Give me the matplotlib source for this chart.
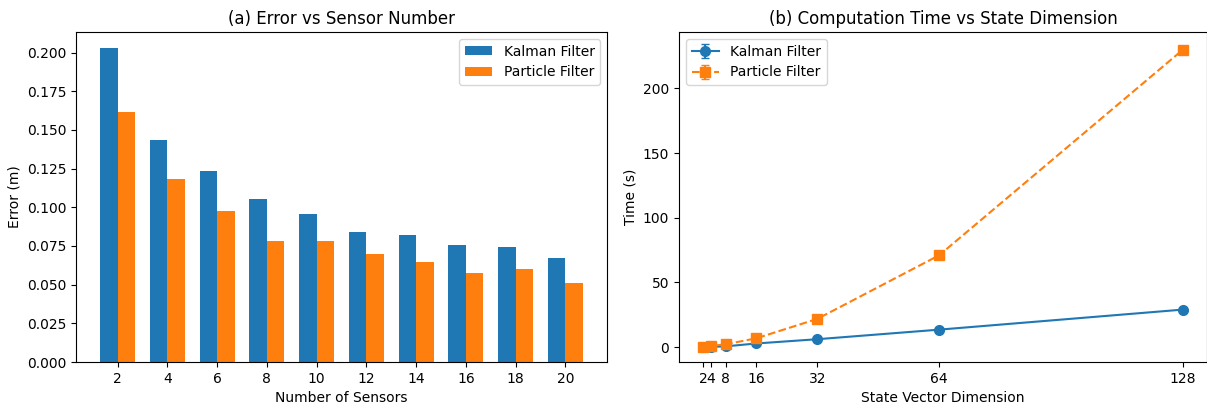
import matplotlib
matplotlib.use("Agg")
import matplotlib.pyplot as plt
import numpy as np

sensor_numbers = [2, 4, 6, 8, 10, 12, 14, 16, 18, 20]
kalman_error = [0.2032, 0.1435, 0.1235, 0.1056, 0.0959, 0.0842, 0.0823, 0.0754, 0.0745, 0.0670]
particle_error = [0.1618, 0.1183, 0.0976, 0.0780, 0.0782, 0.0696, 0.0646, 0.0575, 0.0599, 0.0511]

state_dims = [2, 4, 8, 16, 32, 64, 128]
kalman_time = [0.1, 0.2, 0.6, 2.8, 6.1, 13.5, 29.0]
kalman_std = [0.02, 0.04, 0.1, 0.3, 0.5, 0.8, 1.2]
particle_time = [0.4, 0.8, 2.2, 6.8, 21.8, 71.0, 230.0]
particle_std = [0.05, 0.1, 0.2, 0.4, 0.8, 1.5, 2.0]

DPI = 100
fig = plt.figure(figsize=(1207/DPI, 411/DPI), dpi=DPI)
ax1 = fig.add_axes([76/1207, 49/411, 531/1207, 330/411])
ax2 = fig.add_axes([679/1207, 49/411, 528/1207, 330/411])

x = np.arange(len(sensor_numbers))
w = 0.35
ax1.bar(x - w/2, kalman_error, w, label="Kalman Filter")
ax1.bar(x + w/2, particle_error, w, label="Particle Filter")
ax1.set_xticks(x)
ax1.set_xticklabels([str(s) for s in sensor_numbers])
ax1.set_xlabel("Number of Sensors")
ax1.set_ylabel("Error (m)")
ax1.set_title("(a) Error vs Sensor Number")
ax1.legend()

ax2.errorbar(state_dims, kalman_time, yerr=kalman_std, fmt="o-", capsize=3,
             markersize=7, label="Kalman Filter")
ax2.errorbar(state_dims, particle_time, yerr=particle_std, fmt="s--", capsize=3,
             markersize=7, label="Particle Filter")
ax2.set_xticks(state_dims)
ax2.set_xticklabels([str(d) for d in state_dims])
ax2.set_xlabel("State Vector Dimension")
ax2.set_ylabel("Time (s)")
ax2.set_title("(b) Computation Time vs State Dimension")
ax2.legend()

fig.savefig("out.png", dpi=DPI)
